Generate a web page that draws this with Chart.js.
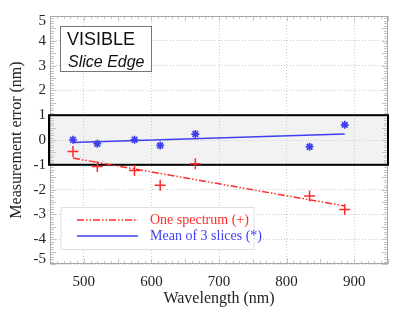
<!DOCTYPE html>
<html><head><meta charset="utf-8">
<script src="https://cdn.jsdelivr.net/npm/chart.js@4"></script>
<style>html,body{margin:0;padding:0;background:#fff}canvas{display:block}</style>
</head><body>
<canvas id="c" width="399" height="314"></canvas>
<script>
// ---- data ----
const wavelengths = [484, 520, 575, 613, 665, 834, 886];
const spectrumErr = [-0.46, -1.07, -1.23, -1.82, -0.96, -2.26, -2.80];
const slicesErr = [0.01, -0.15, 0.01, -0.22, 0.24, -0.27, 0.61];
const spectrumFitX = [484, 886];
const spectrumFitY = [-0.73, -2.66];
const slicesFitX = [484, 886];
const slicesFitY = [-0.10, 0.24];
const xTickValues = [500, 600, 700, 800, 900];
const yTickValues = [-5, -4, -3, -2, -1, 0, 1, 2, 3, 4, 5];
const bandLimits = [-1, 1];
const annotationLines = ['VISIBLE', 'Slice Edge'];
const seriesLabels = ['One spectrum (+)', 'Mean of 3 slices (*)'];

const RED = '#ff2b2b';
const BLUE = '#3f3ff0';
const SERIF = '"Liberation Serif", "Times New Roman", serif';
const SANS = '"Liberation Sans", Arial, sans-serif';
const RED_DASH = [7, 2, 1.5, 2, 1.5, 2];

const pts = (xs, ys) => xs.map((x, i) => ({x, y: ys[i]}));

const bandFill = {
  id: 'bandFill',
  beforeDraw(chart) {
    const {ctx, chartArea: a, scales: {y}} = chart;
    // keep the end labels (5 and -5) inside the frame, as in the reference
    const items = y.getLabelItems();
    items.forEach(it => {
      const tr = it.options && it.options.translation;
      if (!tr) return;
      if (it.label === '5') tr[1] += 5.5;
      if (it.label === '-5') tr[1] -= 4.5;
    });
    const t = y.getPixelForValue(bandLimits[1]), b = y.getPixelForValue(bandLimits[0]);
    ctx.save();
    ctx.fillStyle = '#f2f2f2';
    ctx.fillRect(a.left, t, a.right - a.left, b - t);
    ctx.restore();
  }
};

const decor = {
  id: 'decor',
  beforeDatasetsDraw(chart) {
    const {ctx, chartArea: a, scales: {x, y}} = chart;
    ctx.save();
    // minor ticks
    ctx.strokeStyle = '#c4c4c4';
    ctx.lineWidth = 1;
    ctx.beginPath();
    for (let v = 450; v <= 950; v += 10) {
      const px = Math.round(x.getPixelForValue(v)) + 0.5;
      const len = (v % 50 === 0) ? 5 : 3;
      ctx.moveTo(px, a.bottom); ctx.lineTo(px, a.bottom - len);
      ctx.moveTo(px, a.top); ctx.lineTo(px, a.top + len);
    }
    for (let k = -50; k <= 50; k++) {
      const py = Math.round(y.getPixelForValue(k / 10)) + 0.5;
      const len = (k % 5 === 0) ? 6 : 4;
      ctx.moveTo(a.left, py); ctx.lineTo(a.left + len, py);
      ctx.moveTo(a.right, py); ctx.lineTo(a.right - len, py);
    }
    ctx.stroke();
    // plot border
    ctx.strokeStyle = '#a8a8a8';
    ctx.strokeRect(a.left + 0.5, a.top + 0.5, a.right - a.left - 1, a.bottom - a.top - 1);
    // band border
    const t = y.getPixelForValue(bandLimits[1]), b = y.getPixelForValue(bandLimits[0]);
    ctx.strokeStyle = '#000';
    ctx.lineWidth = 2;
    ctx.strokeRect(a.left - 1, t, a.right - a.left + 1, b - t);
    ctx.restore();
  },
  afterDraw(chart) {
    const {ctx, chartArea: a} = chart;
    ctx.save();
    // annotation box
    const bx = a.left + 10.5, by = a.top + 10.5, bw = 91, bh = 45;
    ctx.fillStyle = '#fff';
    ctx.fillRect(bx, by, bw, bh);
    ctx.strokeStyle = '#777';
    ctx.lineWidth = 1;
    ctx.strokeRect(bx, by, bw, bh);
    ctx.fillStyle = '#111';
    ctx.textBaseline = 'alphabetic';
    ctx.font = '18px ' + SANS;
    ctx.fillText(annotationLines[0], bx + 6.5, by + 18.5);
    ctx.font = 'italic 16px ' + SANS;
    ctx.fillText(annotationLines[1], bx + 7.5, by + 40);
    // legend box
    const lx = a.left + 11, ly = 207.5, lw = 193, lh = 42;
    ctx.fillStyle = '#fff';
    ctx.fillRect(lx, ly, lw, lh);
    ctx.strokeStyle = '#e0e0e0';
    ctx.strokeRect(lx, ly, lw, lh);
    const items = chart.data.datasets.filter(d => d.legend);
    items.forEach((d, i) => {
      const yy = ly + 12.5 + i * 16;
      ctx.strokeStyle = d.borderColor;
      ctx.lineWidth = 1.5;
      ctx.setLineDash(d.borderDash || []);
      ctx.beginPath();
      ctx.moveTo(lx + 16, yy); ctx.lineTo(lx + 77, yy);
      ctx.stroke();
      ctx.setLineDash([]);
      ctx.fillStyle = d.borderColor;
      ctx.font = '14px ' + SERIF;
      ctx.textBaseline = 'middle';
      ctx.fillText(d.label, lx + 89, yy + 0.5);
    });
    ctx.restore();
  }
};

new Chart(document.getElementById('c'), {
  type: 'scatter',
  data: {
    datasets: [
      {label: 'spectrum points', data: pts(wavelengths, spectrumErr), pointStyle: 'cross', pointRadius: 5.5, pointHoverRadius: 5.5, borderColor: RED, borderWidth: 1.5, showLine: false},
      {label: 'slices points', data: pts(wavelengths, slicesErr), pointStyle: 'star', pointRadius: 4, pointHoverRadius: 4, borderColor: BLUE, borderWidth: 1.7, showLine: false},
      {label: seriesLabels[0], legend: true, data: pts(spectrumFitX, spectrumFitY), showLine: true, pointRadius: 0, borderColor: RED, borderWidth: 1.5, borderDash: RED_DASH, fill: false},
      {label: seriesLabels[1], legend: true, data: pts(slicesFitX, slicesFitY), showLine: true, pointRadius: 0, borderColor: BLUE, borderWidth: 1.5, fill: false}
    ]
  },
  options: {
    responsive: false,
    devicePixelRatio: 1,
    animation: false,
    events: [],
    layout: {padding: {top: 16, right: 11, left: 0, bottom: 0}},
    plugins: {legend: {display: false}, tooltip: {enabled: false}},
    scales: {
      x: {
        type: 'linear', min: 450, max: 950,
        afterBuildTicks: s => { s.ticks = xTickValues.map(v => ({value: v})); },
        afterFit: s => { s.height = 50; },
        ticks: {padding: 9, color: '#222', font: {family: SERIF, size: 15}, maxRotation: 0},
        grid: {color: '#cccccc', drawTicks: false},
        border: {display: false, dash: [1, 2]},
        title: {display: true, text: 'Wavelength (nm)', color: '#222', font: {family: SERIF, size: 16}, padding: {top: 0, bottom: 6}}
      },
      y: {
        type: 'linear', min: -5, max: 5,
        afterBuildTicks: s => { s.ticks = yTickValues.map(v => ({value: v})); },
        afterFit: s => { s.width = 50; },
        ticks: {padding: 4, color: '#222', font: {family: SERIF, size: 15}},
        grid: {color: '#cccccc', drawTicks: false},
        border: {display: false, dash: [1, 2]},
        title: {display: true, text: 'Measurement error (nm)', color: '#222', font: {family: SERIF, size: 16}, padding: {top: 7.4, bottom: 0}}
      }
    }
  },
  plugins: [bandFill, decor]
});
</script>
</body></html>
